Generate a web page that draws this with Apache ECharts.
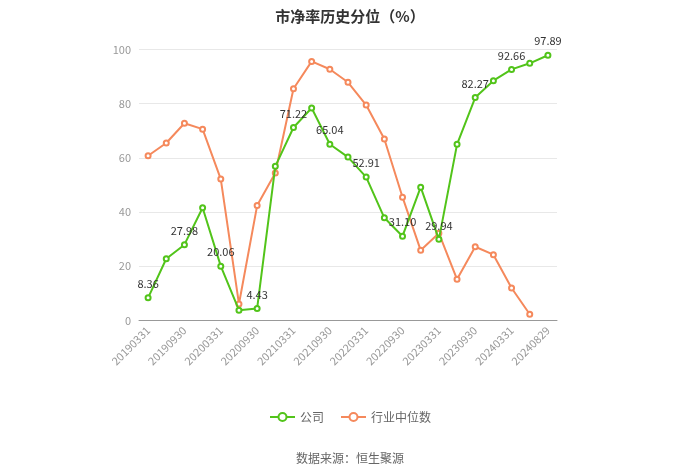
<!DOCTYPE html>
<html>
<head>
<meta charset="utf-8">
<script src="https://cdn.jsdelivr.net/npm/echarts@6/dist/echarts.min.js"></script>
<style>html,body{margin:0;padding:0;background:#fff}#c{width:700px;height:474px}</style>
</head>
<body>
<div id="c"></div>
<script>
var categories = ['20190331','20190630','20190930','20191231','20200331','20200630','20200930','20201231','20210331','20210630','20210930','20211231','20220331','20220630','20220930','20221231','20230331','20230630','20230930','20231231','20240331','20240630','20240829'];
var companyValues = [8.36,22.8,27.98,41.6,20.06,3.8,4.43,56.9,71.22,78.4,65.04,60.3,52.91,37.9,31.10,49.2,29.94,65.0,82.27,88.5,92.66,94.9,97.89];
var industryValues = [60.8,65.5,72.8,70.6,52.2,6.1,42.4,54.4,85.5,95.6,92.7,87.9,79.5,67.0,45.5,25.9,32.2,15.2,27.2,24.3,12.0,2.3,null];
var yTicks = [0,20,40,60,80,100];

var chart = echarts.init(document.getElementById('c'));
var font = '"Microsoft YaHei","Noto Sans CJK SC",sans-serif';
chart.setOption({
  animation: false,
  textStyle: {fontFamily: font},
  title: {
    text: '市净率历史分位（%）',
    left: 'center', top: 4,
    textStyle: {fontSize: 15, fontWeight: 'bold', color: '#333', fontFamily: font}
  },
  legend: {
    bottom: 46, left: 'center',
    itemWidth: 25, itemHeight: 10, itemGap: 16,
    textStyle: {color: '#666', fontSize: 12},
    data: ['公司','行业中位数']
  },
  graphic: [{
    type: 'text', left: 'center', bottom: 10,
    style: {text: '数据来源：恒生聚源', fill: '#666', fontSize: 12, fontFamily: font}
  }],
  grid: {left: 139, right: 143, top: 49.5, bottom: 153.5, containLabel: false},
  xAxis: {
    type: 'category',
    data: categories,
    boundaryGap: true,
    axisLine: {lineStyle: {color: '#999'}},
    axisTick: {alignWithLabel: true, interval: 1, lineStyle: {color: '#999'}},
    axisLabel: {interval: 1, rotate: 45, color: '#999', fontSize: 11}
  },
  yAxis: {
    type: 'value', min: yTicks[0], max: yTicks[yTicks.length-1], interval: 20,
    axisLine: {show: false}, axisTick: {show: false},
    axisLabel: {color: '#999', fontSize: 11},
    splitLine: {lineStyle: {color: '#e8e8e8'}}
  },
  series: [{
    name: '公司', type: 'line', data: companyValues,
    symbol: 'emptyCircle', symbolSize: 5, showAllSymbol: true,
    itemStyle: {color: '#52c41a'},
    lineStyle: {width: 2, color: '#52c41a'},
    label: {
      show: true, position: 'top', color: '#333', fontSize: 11,
      formatter: function (p) { return p.dataIndex % 2 === 0 ? p.value.toFixed(2) : ''; }
    },
    z: 3
  }, {
    name: '行业中位数', type: 'line', data: industryValues,
    symbol: 'emptyCircle', symbolSize: 5, showAllSymbol: true,
    itemStyle: {color: '#f5895c'},
    lineStyle: {width: 2, color: '#f5895c'},
    z: 2
  }]
});
</script>
</body>
</html>
